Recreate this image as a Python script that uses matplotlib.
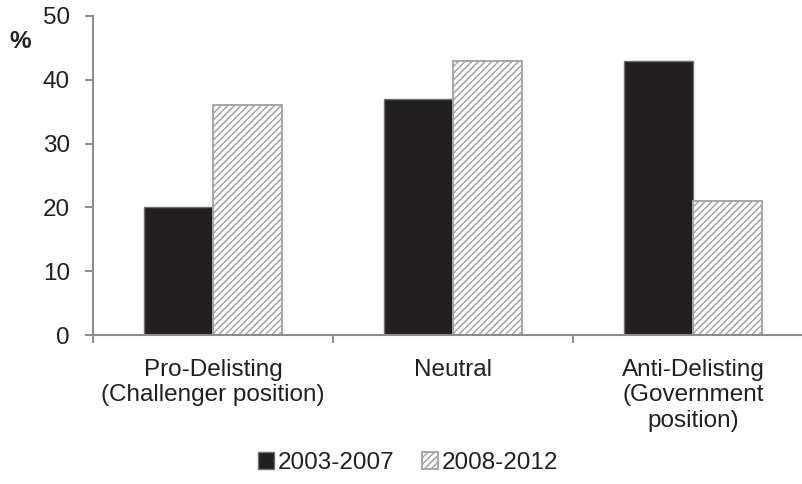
import matplotlib
matplotlib.use("Agg")
import matplotlib.pyplot as plt
import numpy as np

categories = ["Pro-Delisting\n(Challenger position)", "Neutral", "Anti-Delisting\n(Government\nposition)"]
series_names = ["2003-2007", "2008-2012"]
values_early = [20, 37, 43]
values_late = [36, 43, 21]
y_ticks = [0, 10, 20, 30, 40, 50]

plt.rcParams["font.family"] = ["Liberation Sans", "DejaVu Sans"]
plt.rcParams["hatch.linewidth"] = 1.1
plt.rcParams["hatch.color"] = "#b4b4b4"

fig = plt.figure(figsize=(8.02, 4.84), dpi=100)
ax = fig.add_axes([93 / 802, 1 - 335 / 484, (802 - 93) / 802, (335 - 16) / 484])

x = np.arange(len(categories))
w = 0.288
ax.bar(x - w / 2, values_early, w, color="#231f20", edgecolor="#6e6e6e",
       linewidth=1.0, label=series_names[0], zorder=2)
ax.bar(x + w / 2, values_late, w, color="white", edgecolor="#a6a6a6",
       hatch="/////", linewidth=1.4, label=series_names[1], zorder=2)

spacing_px = 240
ax.set_xlim(-0.5, -0.5 + (802 - 93) / spacing_px)
ax.set_ylim(0, 50)
ax.set_yticks(y_ticks)
ax.set_xticks(x)
ax.set_xticklabels(categories, fontsize=17.5, color="#231f20", linespacing=1.22)
ax.set_xticks([-0.5, 0.5, 1.5], minor=True)
ax.tick_params(axis="x", which="major", length=0, pad=17)
ax.tick_params(axis="x", which="minor", length=6, width=1.4, color="#8c8c8c", direction="out")
ax.tick_params(axis="y", length=6, width=1.4, color="#8c8c8c", labelsize=17.5,
               labelcolor="#231f20", pad=10.5)

for side in ("top", "right"):
    ax.spines[side].set_visible(False)
for side in ("left", "bottom"):
    ax.spines[side].set_color("#8c8c8c")
    ax.spines[side].set_linewidth(1.5)

fig.text(9 / 802, 1 - 42 / 484, "%", fontsize=17.5, fontweight="bold",
         color="#231f20", ha="left", va="center")

fig.legend(loc="center", bbox_to_anchor=(408 / 802, 1 - 463 / 484), ncol=2,
           frameon=False, fontsize=17.5, handlelength=0.65, handleheight=0.65,
           handletextpad=0.15, columnspacing=1.15, labelcolor="#231f20")

fig.savefig("out.png", dpi=100)
